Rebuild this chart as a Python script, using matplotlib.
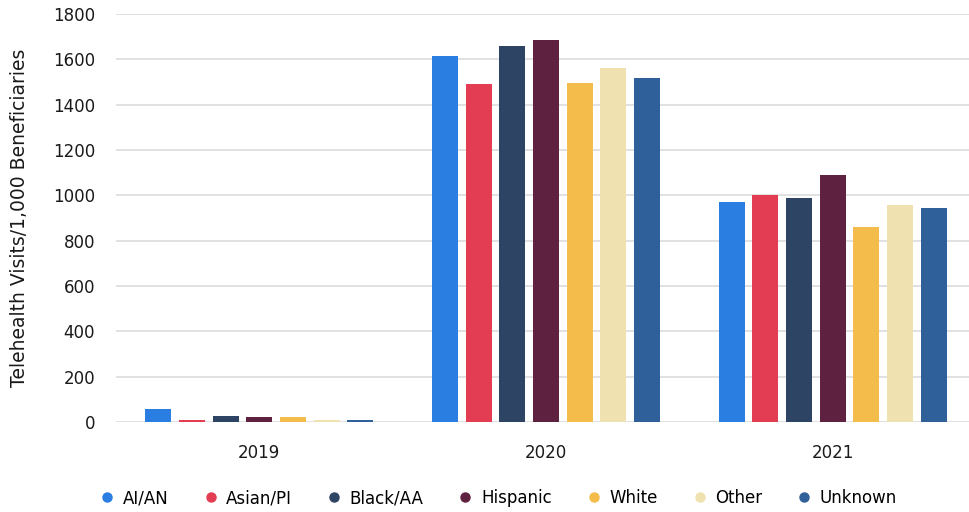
import numpy as np
import matplotlib
matplotlib.use("Agg")
import matplotlib.pyplot as plt
from matplotlib.lines import Line2D

plt.rcParams['font.family'] = ['DejaVu Sans']

years = ['2019', '2020', '2021']
groups = ['AI/AN', 'Asian/PI', 'Black/AA', 'Hispanic', 'White', 'Other', 'Unknown']
colors = ['#2A7DE1', '#E33D53', '#2E4464', '#5E2140', '#F4BC4A', '#F0E2B0', '#30609A']

# telehealth visits per 1,000 beneficiaries, one list per group (2019, 2020, 2021)
ai_an = [59, 1615, 972]
asian_pi = [11, 1493, 1000]
black_aa = [26, 1657, 988]
hispanic = [22, 1684, 1090]
white = [20, 1497, 860]
other = [11, 1560, 957]
unknown = [11, 1519, 945]
series = [ai_an, asian_pi, black_aa, hispanic, white, other, unknown]

fig = plt.figure(figsize=(9.69, 5.12), dpi=100)
ax = fig.add_axes([116 / 969, 90 / 512, 853 / 969, 408 / 512])

x = np.arange(len(years))
step = 0.1174
width = 0.0907
for i, (vals, c) in enumerate(zip(series, colors)):
    offset = (i - 3) * step
    ax.bar(x + offset, vals, width=width, color=c, linewidth=0, zorder=3)

ax.set_xlim(-0.5, 2.476)
ax.set_ylim(0, 1800)
ax.set_yticks(np.arange(0, 1801, 200))
ax.set_xticks(x)
ax.set_xticklabels(years)
ax.grid(axis='y', color='#dcdcdc', linewidth=1.2, zorder=0)
for s in ax.spines.values():
    s.set_visible(False)
ax.tick_params(axis='both', length=0, labelsize=12, colors='#1a1a1a')
ax.tick_params(axis='y', pad=15)
ax.tick_params(axis='x', pad=16)

ax.set_ylabel('Telehealth Visits/1,000 Beneficiaries', fontsize=13.5,
              color='#1a1a1a', labelpad=17)

handles = [Line2D([], [], marker='o', linestyle='', markersize=6.5,
                  markerfacecolor=c, markeredgecolor=c) for c in colors]
fig.legend(handles, groups, loc='center', bbox_to_anchor=(0.514, 0.027),
           ncol=7, frameon=False, fontsize=12, handletextpad=0.45,
           columnspacing=2.0, handlelength=1.0)

fig.savefig('out.png', dpi=100)
